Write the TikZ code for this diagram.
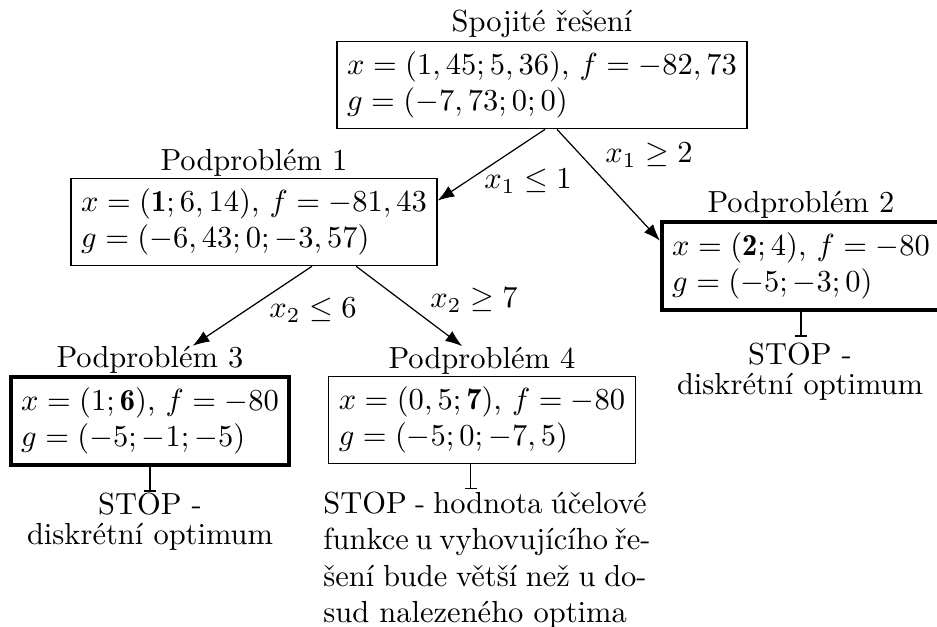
\documentclass[tikz,border=0pt]{standalone}
\usepackage{fontspec}
\usetikzlibrary{arrows.meta}
\begin{document}
\begin{tikzpicture}[x=0.3279pt,y=-0.3279pt,
  box/.style={draw, align=left, inner sep=3.33pt, line width=0.4pt},
  optbox/.style={box, line width=1.3pt},
  ttl/.style={anchor=base, inner sep=0pt},
  arr/.style={-{Latex[length=5.5pt,width=4pt]}},
  stopline/.style={-{Bar[width=4pt]}},
  stoptxt/.style={anchor=north, inner sep=0pt, font=\fontsize{10}{10}\selectfont},
  lbl/.style={inner sep=0pt}]
\useasboundingbox (0,0) rectangle (937,626);

% boxes
\node[box] (root) at (542,85) {$x=(1,45;5,36)$, $f=-82,73$\\$g=(-7,73;0;0)$};
\node[box] (P1) at (254,222) {$x=(\mathbf{1};6,14)$, $f=-81,43$\\$g=(-6,43;0;-3,57)$};
\node[optbox] (P2) at (801,266) {$x=(\mathbf{2};4)$, $f=-80$\\$g=(-5;-3;0)$};
\node[optbox] (P3) at (150,421) {$x=(1;\mathbf{6})$, $f=-80$\\$g=(-5;-1;-5)$};
\node[box] (P4) at (482,420) {$x=(0,5;\mathbf{7})$, $f=-80$\\$g=(-5;0;-7,5)$};

% titles
\node[ttl] (t0) at ([yshift=3pt]root.north) {Spojité řešení};
\node[ttl] (t1) at ([yshift=2.5pt]P1.north) {Podproblém 1};
\node[ttl] (t2) at ([yshift=2.5pt]P2.north) {Podproblém 2};
\node[ttl] (t3) at ([yshift=2.5pt]P3.north) {Podproblém 3};
\node[ttl] (t4) at ([yshift=2.5pt]P4.north) {Podproblém 4};

% branch arrows
\draw[arr] ([xshift=1pt]root.south) -- ([yshift=7pt]P1.east);
\draw[arr] ([xshift=4.9pt]root.south) -- ([yshift=8.3pt]P2.west);
\draw[arr] ([xshift=19pt]P1.south) -- ([xshift=14pt]t3.north);
\draw[arr] ([xshift=33.5pt]P1.south) -- ([xshift=-6.5pt]t4.north);

% branch labels
\node[lbl] (l1) at (528,181) {$x_1\leq 1$};
\node[lbl] (l2) at (649,155) {$x_1\geq 2$};
\node[lbl] (l3) at (313,310) {$x_2\leq 6$};
\node[lbl] (l4) at (474,300) {$x_2\geq 7$};

% stop texts
\node[stoptxt, align=center] (s2) at (800,342) {STOP -\\diskrétní optimum};
\node[stoptxt, align=center] (s3) at (150,492) {STOP -\\diskrétní optimum};
\node[anchor=north, inner sep=0pt, align=left] (s4) at (485,491)
  {\makebox[106pt][s]{STOP - hodnota účelové}\\
   \makebox[106pt][s]{funkce u vyhovujícího ře-}\\
   \makebox[106pt][s]{šení bude větší než u do-}\\
   sud nalezeného optima};

% stop connectors
\coordinate (b2) at ([yshift=-8.2pt]P2.south);
\coordinate (b3) at ([yshift=-8.2pt]P3.south);
\coordinate (a4) at ([xshift=-3.7pt]P4.south);
\coordinate (b4) at ([yshift=-8.2pt]a4);
\draw[stopline] (P2.south) -- (b2);
\draw[stopline] (P3.south) -- (b3);
\draw[stopline] (a4) -- (b4);
\end{tikzpicture}
\end{document}
